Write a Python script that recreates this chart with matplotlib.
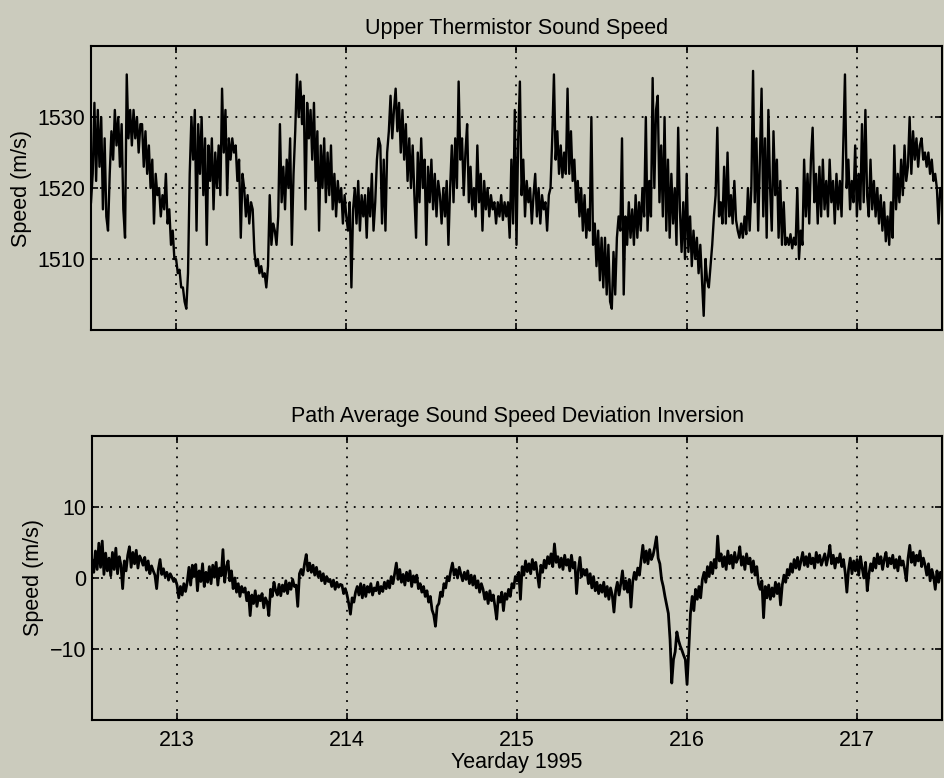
import numpy as np
import matplotlib
matplotlib.use('Agg')
import matplotlib.pyplot as plt

plt.rcParams['font.family'] = ['Liberation Sans', 'DejaVu Sans']

# time axis: yearday 1995, sampled every 0.01 day
day_start = 212.5
day_end = 217.5

# upper thermistor sound speed (m/s), 0.01 day steps
upper_speed = [
    1518, 1522, 1532, 1521, 1531, 1523, 1530, 1517, 1527, 1516,
    1514, 1522, 1528, 1524, 1531, 1526, 1530, 1523, 1529, 1517,
    1513, 1536, 1527, 1531, 1526, 1531, 1527, 1530, 1525, 1529,
    1529, 1523, 1528, 1522, 1526, 1520, 1524, 1515, 1522, 1519,
    1520, 1516, 1519, 1517, 1522, 1515, 1517, 1512, 1514, 1510,
    1510, 1508, 1508.5, 1506, 1506, 1504, 1503, 1508, 1522, 1530,
    1524, 1531, 1514, 1529, 1522, 1530, 1519, 1527, 1512, 1526,
    1521, 1527, 1517, 1525, 1520, 1526, 1519, 1534, 1525, 1531,
    1519, 1527, 1524, 1527, 1525, 1526, 1521, 1524, 1513, 1522,
    1520, 1516, 1519, 1515, 1518, 1517, 1511, 1509, 1510, 1508,
    1509, 1507.5, 1508, 1506, 1509, 1519, 1512, 1515, 1514, 1512,
    1516, 1529, 1518, 1523, 1517, 1524, 1520, 1527, 1512, 1522,
    1528, 1536, 1530, 1535, 1529, 1533, 1517, 1532, 1527, 1531,
    1524, 1532, 1521, 1528, 1514, 1526, 1520, 1527, 1518, 1525,
    1519, 1526, 1517, 1522, 1516, 1521, 1518, 1520, 1515, 1519,
    1516, 1514, 1518, 1506, 1517, 1520, 1515, 1521, 1514, 1519,
    1516, 1519, 1513, 1520, 1516, 1522, 1514, 1518, 1524, 1527,
    1526, 1515, 1524, 1514, 1525, 1528, 1533, 1527, 1531, 1534,
    1528, 1532, 1525, 1531, 1524, 1529, 1521, 1527, 1520, 1526,
    1519, 1513, 1525, 1518, 1527, 1520, 1524, 1512, 1523, 1518,
    1524, 1517, 1522, 1516, 1521, 1519, 1515, 1520, 1516, 1521,
    1512, 1520, 1526, 1518, 1527, 1520, 1535, 1524, 1527, 1519,
    1525, 1529, 1518, 1523, 1517, 1520, 1516, 1526, 1518, 1522,
    1514, 1521, 1517, 1520, 1516, 1519, 1517, 1518, 1515, 1518,
    1516, 1519, 1515.5, 1518, 1516, 1518, 1513, 1524, 1515, 1531,
    1512, 1527, 1535, 1519, 1524, 1516, 1521, 1518, 1520, 1515,
    1519, 1522, 1516, 1520, 1515, 1519, 1517, 1518, 1514, 1519,
    1520, 1527, 1536, 1524, 1528, 1522, 1526, 1521.5, 1525, 1522,
    1534, 1522, 1528, 1521, 1524, 1518, 1521, 1516, 1520, 1514,
    1519, 1513, 1517, 1514, 1530, 1512, 1515, 1509, 1514, 1507,
    1513, 1506, 1513, 1505, 1512, 1504, 1503, 1511, 1505, 1513,
    1516, 1514, 1527, 1505, 1516, 1512, 1518, 1513, 1517, 1512,
    1519, 1513, 1518, 1514, 1520, 1516, 1530, 1514, 1521, 1516,
    1535.5, 1520, 1531, 1533, 1518, 1526, 1516, 1530, 1514, 1524,
    1513, 1522, 1515, 1520, 1512, 1528.5, 1517, 1511, 1518, 1510,
    1522, 1511, 1516, 1509, 1514, 1510, 1513, 1508, 1512, 1507,
    1502, 1510, 1507, 1506, 1509, 1512, 1516, 1519, 1528.5, 1516,
    1518, 1515, 1523, 1515, 1525, 1516, 1519, 1515, 1521, 1515.5,
    1514, 1513, 1515, 1513, 1516, 1513.5, 1520, 1514, 1520, 1536.5,
    1518, 1527, 1514, 1524, 1534, 1516, 1527, 1513, 1531, 1520,
    1514, 1528, 1519, 1524, 1513, 1521, 1512, 1518, 1512, 1513,
    1512, 1513.5, 1511.5, 1513, 1512, 1520, 1510, 1514, 1512, 1524,
    1516, 1522, 1515, 1524, 1528.5, 1518, 1522, 1515, 1523, 1516,
    1524, 1517, 1521, 1516, 1524, 1518, 1521, 1515, 1522, 1517,
    1521, 1516, 1526, 1536, 1520, 1524, 1517, 1521, 1518, 1526,
    1516, 1522, 1517, 1529, 1518, 1531, 1519, 1516, 1524, 1517,
    1521, 1516, 1520, 1515, 1519, 1514, 1518, 1512.5, 1516, 1512,
    1518, 1513, 1526, 1517, 1522, 1518, 1524, 1519, 1526, 1521,
    1523, 1530, 1522, 1528, 1524, 1527, 1523, 1526, 1527, 1524,
    1525, 1523, 1525, 1522, 1524, 1521, 1522, 1520, 1515, 1520,
    1519,
]

# path average sound speed deviation (m/s), 0.01 day steps
path_dev = [
    2.5, 0.8, 3.8, 1.2, 4.9, 1.5, 5.2, 0.5, 3.5, 1.0,
    2.8, 0.3, 3.6, 1.2, 4.2, 0.6, 3.0, 1.8, -1.5, 2.4,
    1.0, 3.2, 4.4, 1.5, 3.6, 2.0, 3.9, 1.4, 3.1, 2.6,
    1.8, 2.9, 1.1, 2.4, 0.6, 1.7, 1.0, 0.4, -1.5, 1.2,
    2.6, 0.5, 1.3, 0.2, 0.8, -0.3, 0.6, 0.1, -0.5, -0.2,
    -1.0, -2.8, -1.2, -2.4, -0.8, -1.9, -0.6, 1.5, -1.0, 1.8,
    0.2, 1.9, -1.8, 1.0, -0.5, 2.0, -1.2, 0.8, -0.6, 1.6,
    -0.8, 1.8, 0.1, 2.2, -1.0, 1.4, 0.3, 4.0, -0.6, 1.5,
    2.4, -0.4, 1.0, -1.5, 0.0, -2.0, -0.8, -2.6, -1.2, -2.0,
    -1.4, -3.2, -2.0, -5.3, -2.4, -3.6, -1.8, -4.0, -2.5, -3.2,
    -2.2, -4.2, -2.8, -3.4, -5.3, -1.6, -2.6, -0.6, -1.8, -2.4,
    -0.9, -2.5, -1.0, -1.9, -0.4, -2.2, -0.7, -1.6, -0.2, -1.2,
    -1.0, -4.0, 0.6, 1.2, 0.4, 2.0, 3.3, 1.0, 2.1, 0.8,
    1.8, 0.4, 1.5, 0.2, 0.9, -0.4, 0.6, -0.8, 0.2, -0.5,
    -0.2, -1.2, -0.3, -1.6, -0.6, -1.3, -0.9, -1.0, -2.2, -1.5,
    -2.4, -3.6, -5.1, -2.8, -3.4, -2.0, -1.2, -2.4, -0.8, -2.8,
    -1.0, -2.6, -1.2, -2.0, -0.8, -2.4, -1.4, -1.8, -0.6, -2.2,
    -1.2, -1.9, -0.6, -1.5, -0.4, -1.4, 0.2, -0.8, 0.6, 2.1,
    -0.2, 1.2, -0.6, 0.5, -1.0, 0.8, -0.4, 1.0, -1.2, 0.3,
    -0.6, 0.4, -1.5, -0.8, -2.0, -1.2, -2.6, -1.8, -3.4, -2.6,
    -4.5, -5.2, -6.8, -4.0, -3.6, -2.0, -2.6, -0.8, -1.4, 0.2,
    -0.4, 1.0, 2.1, 0.4, 1.2, 0.0, 1.5, 0.5, -0.4, 0.8,
    -0.2, 1.0, -0.8, 0.4, -1.0, 0.3, -1.4, -0.4, -2.0, -0.8,
    -1.6, -3.0, -2.0, -3.6, -1.8, -3.2, -2.4, -4.0, -5.8, -2.6,
    -3.4, -2.0, -4.6, -2.2, -3.0, -1.6, -2.6, -0.8, -1.4, 0.2,
    -0.4, 0.8, -3.0, 1.6, 0.4, 2.4, 0.9, 2.0, 0.6, 2.6,
    1.2, 2.2, 0.5, -1.3, 1.8, 0.8, 2.5, 1.4, 3.0, 2.0,
    3.4, 1.6, 4.8, 2.2, 3.0, 1.5, 2.8, 1.2, 3.2, 1.8,
    2.6, 1.0, 3.2, 1.4, 2.2, -2.2, 1.0, 2.9, 0.2, 1.2,
    0.4, 1.2, -0.8, 0.6, -1.4, 0.2, -1.8, -0.6, -2.2, -1.0,
    -2.0, -0.6, -2.6, -1.2, -3.0, -1.4, -2.4, -4.8, -1.8, -0.6,
    -2.4, -0.8, 1.0, -1.6, -0.4, -2.0, -0.2, -4.1, -0.6, 0.8,
    -0.2, 1.4, 0.4, 2.6, 4.6, 2.2, 3.8, 2.0, 4.0, 2.6,
    3.2, 4.4, 5.8, 2.8, 2.0, -0.2, -1.2, -2.6, -3.8, -5.0,
    -8.7, -14.8, -11.5, -10.4, -7.6, -8.8, -9.6, -10.2, -10.9, -11.5,
    -15.0, -10.2, -5.0, -2.6, -4.6, -1.6, -3.0, -1.2, -2.8, -0.2,
    0.8, -0.6, 1.6, 0.2, 2.2, 0.6, 2.6, 1.4, 5.9, 2.4,
    3.4, 1.6, 3.0, 1.2, 3.8, 2.0, 3.2, 1.4, 3.6, 2.2,
    2.8, 4.4, 1.8, 3.0, 1.2, 3.4, 2.0, 2.8, 0.8, 2.4,
    0.4, 1.6, -0.8, -1.6, -0.4, -5.6, -1.2, -2.8, -1.0, -3.0,
    -1.4, -2.6, -0.6, -2.2, -0.8, -3.8, -1.0, 0.4, -0.6, 1.2,
    0.4, 2.0, 0.8, 2.6, 1.4, 2.9, 1.2, 2.4, 3.6, 1.8,
    3.0, 1.6, 3.4, 2.0, 2.8, 1.4, 3.6, 2.2, 3.2, 1.8,
    2.6, 3.4, 1.8, 3.0, 4.6, 2.0, 3.2, 1.4, 2.8, 2.2,
    3.4, 1.6, 2.6, 0.8, -2.0, 1.2, 2.8, 0.6, 2.4, 1.0,
    2.6, 0.4, 3.0, 1.4, 0.0, 2.2, -1.8, 0.6, 2.0, 1.0,
    2.8, 1.4, 3.4, 2.0, 3.0, 1.2, 2.6, 3.6, 1.6, 2.8,
    2.0, 3.2, 1.4, 2.6, 1.0, 3.0, 1.8, 2.4, 1.2, -0.4,
    2.8, 4.6, 2.2, 3.6, 1.8, 3.2, 2.4, 3.8, 1.6, 2.8,
    1.8, 0.4, 2.0, -0.4, 1.2, 0.2, -1.6, 1.0, -0.6, 0.8,
    0.6,
]

day_ticks = [213, 214, 215, 216, 217]
upper_ticks = [1510, 1520, 1530]
dev_ticks = [-10, 0, 10]

bg = '#cbcbbd'
fs = 15.5

t_upper = np.linspace(day_start, day_end, len(upper_speed))
t_dev = np.linspace(day_start, day_end, len(path_dev))

fig = plt.figure(figsize=(9.45, 7.78), dpi=100, facecolor=bg)
ax1 = fig.add_axes([0.0963, 0.5758, 0.9005, 0.3650])
ax2 = fig.add_axes([0.0974, 0.0746, 0.8995, 0.3650])


def style_axes(ax):
    ax.set_facecolor(bg)
    for s in ax.spines.values():
        s.set_linewidth(1.5)
        s.set_color('black')
    ax.tick_params(direction='in', length=5, width=1.2, top=True, right=True,
                   labelsize=fs, colors='black')
    ax.tick_params(axis='y', pad=4)
    ax.tick_params(axis='x', pad=7)
    ax.grid(True, color='black', linestyle=(0, (1, 4)), linewidth=1.3)
    ax.set_xlim(day_start, day_end)
    ax.set_xticks(day_ticks)


# upper panel
ax1.plot(t_upper, upper_speed, color='black', lw=1.7)
style_axes(ax1)
ax1.set_ylim(1500, 1540)
ax1.set_yticks(upper_ticks)
ax1.set_xticklabels([])
ax1.set_ylabel('Speed (m/s)', fontsize=fs, labelpad=4)
ax1.set_title('Upper Thermistor Sound Speed', fontsize=15.5, pad=9)

# lower panel
ax2.plot(t_dev, path_dev, color='black', lw=2.0)
style_axes(ax2)
ax2.set_ylim(-20, 20)
ax2.set_yticks(dev_ticks)
ax2.set_ylabel('Speed (m/s)', fontsize=fs, labelpad=4)
ax2.set_xlabel('Yearday 1995', fontsize=fs, labelpad=1)
ax2.set_title('Path Average Sound Speed Deviation Inversion', fontsize=15.5, pad=10)

fig.savefig('out.png', dpi=100, facecolor=bg)
